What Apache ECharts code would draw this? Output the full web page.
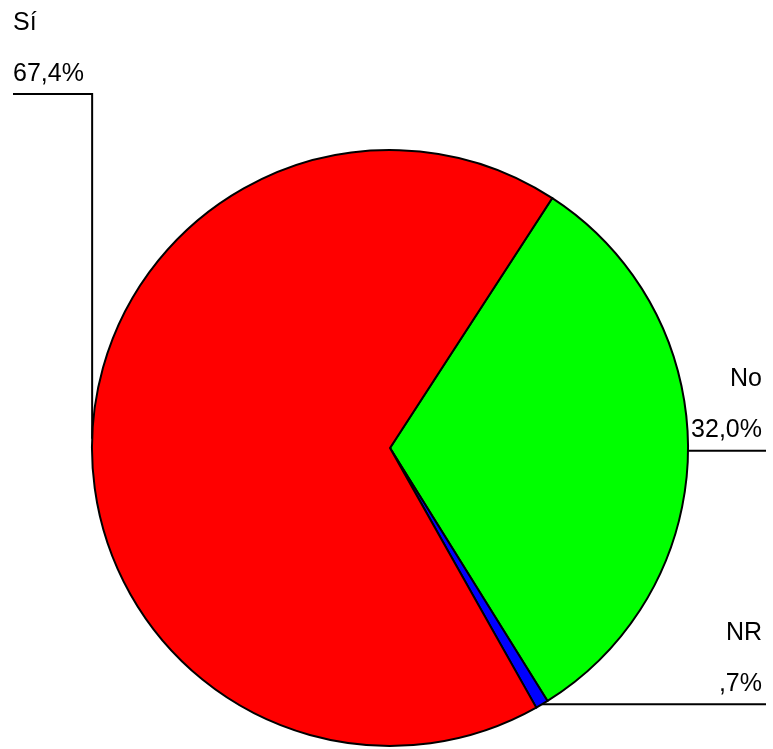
<!DOCTYPE html>
<html>
<head>
<meta charset="utf-8">
<script src="https://cdn.jsdelivr.net/npm/echarts@6/dist/echarts.min.js"></script>
<style>
  html, body { margin: 0; padding: 0; background: #fff; }
  #chart { width: 773px; height: 749px; }
</style>
</head>
<body>
<div id="chart"></div>
<script>
// order follows the drawing: clockwise from the top-right edge
var categories = ['No', 'NR', 'Sí'];
var values = [32.0, 0.7, 67.4];
var pctLabels = ['32,0%', ',7%', '67,4%'];
var colors = ['#00ff00', '#0000ff', '#ff0000'];

var chart = echarts.init(document.getElementById('chart'));
var W = chart.getWidth();

var pieData = categories.map(function (c, i) {
    return { name: c, value: values[i], itemStyle: { color: colors[i] } };
});

var option = {
    animation: false,
    series: [{
        type: 'pie',
        center: [390, 448],
        radius: 298,
        startAngle: 57,
        clockwise: true,
        avoidLabelOverlap: false,
        emphasis: { disabled: true },
        itemStyle: { borderColor: '#000', borderWidth: 2 },
        label: {
            show: true,
            color: '#000',
            fontFamily: 'Liberation Sans, Arial, sans-serif',
            fontSize: 25,
            lineHeight: 51,
            formatter: function (p) {
                return p.name + '\n' + pctLabels[p.dataIndex];
            }
        },
        labelLine: { show: true, length: 0, length2: 10, lineStyle: { color: '#000', width: 2 } },
        labelLayout: function (params) {
            var start = params.labelLinePoints ? params.labelLinePoints[0] : [0, 0];
            var i = params.dataIndex;
            if (i === 2) {
                // Sí: up the left edge, then out to the left
                var ly = 94;
                return {
                    x: 13, y: ly + 6, align: 'left', verticalAlign: 'bottom',
                    labelLinePoints: [start, [start[0], ly], [13, ly]]
                };
            }
            var right = W - 7;
            return {
                x: right - 4, y: start[1] + 5, align: 'right', verticalAlign: 'bottom',
                labelLinePoints: [start, [right, start[1]], [right, start[1]]]
            };
        },
        data: pieData
    }]
};
chart.setOption(option);
</script>
</body>
</html>
